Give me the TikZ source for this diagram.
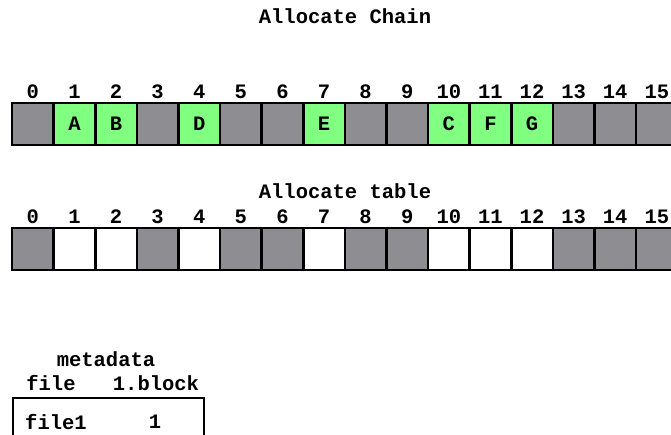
\documentclass[tikz,border=0pt]{standalone}
\usepackage{fontspec}
\setmonofont{Liberation Mono}
\usetikzlibrary{positioning}
\definecolor{blockgray}{RGB}{142,142,146}
\definecolor{usedgreen}{RGB}{128,255,128}
\newcommand{\blk}{\ttfamily\bfseries\fontsize{20.5}{24}\selectfont}

\begin{document}
\begin{tikzpicture}[x=1pt,y=-1pt]
  \def\w{41.6}
  \tikzset{cell/.style={draw,line width=2.6pt,minimum width=\w pt,minimum height=42pt,inner sep=0pt,font=\blk}}
  \tikzset{index/.style={inner sep=0pt,font=\blk}}
  \tikzset{title/.style={inner sep=0pt,font=\blk}}
  \useasboundingbox (0,0) rectangle (671,435);
  \clip (0,0) rectangle (671,435);
  % allocate chain
  \node[title] (chaintitle) at (345,16) {Allocate Chain};
  \foreach \i/\t/\c in {0//blockgray,1/A/usedgreen,2/B/usedgreen,3//blockgray,4/D/usedgreen,5//blockgray,6//blockgray,7/E/usedgreen,8//blockgray,9//blockgray,10/C/usedgreen,11/F/usedgreen,12/G/usedgreen,13//blockgray,14//blockgray,15//blockgray} {
    \node[cell,fill=\c] (chain\i) at (12+\w*\i+\w/2,124) {\t};
    \node[index] (chainidx\i) at (12+\w*\i+\w/2,92) {\i};
  }
  % allocate table
  \node[title] (tabletitle) at (345,191) {Allocate table};
  \foreach \i/\c in {0/blockgray,1/white,2/white,3/blockgray,4/white,5/blockgray,6/blockgray,7/white,8/blockgray,9/blockgray,10/white,11/white,12/white,13/blockgray,14/blockgray,15/blockgray} {
    \node[cell,fill=\c] (table\i) at (12+\w*\i+\w/2,249) {};
    \node[index] (tableidx\i) at (12+\w*\i+\w/2,217) {\i};
  }
  % metadata
  \node[title] (metatitle) at (106,359) {metadata};
  \node[index] (metafile) at (51,383) {file};
  \node[index] (metablock) at (156,383) {1.block};
  \node[draw,line width=2pt,minimum width=191pt,minimum height=60pt,anchor=north west] (meta) at (12,397) {};
  \node[index] (file1) at (56,422) {file1};
  \node[index] (file1block) at (155,422) {1};
\end{tikzpicture}
\end{document}
